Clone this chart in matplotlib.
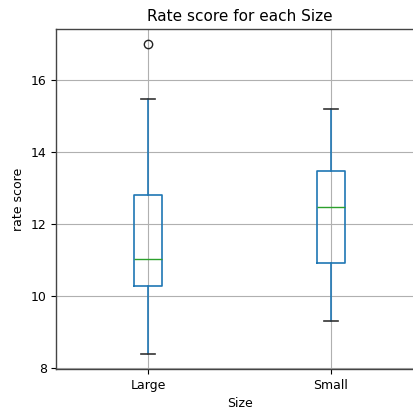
import matplotlib
matplotlib.use("Agg")
import matplotlib.pyplot as plt

# box statistics
sizes = ["Large", "Small"]
whisker_low = [8.39, 9.31]
q1 = [10.28, 10.92]
medians = [11.03, 12.47]
q3 = [12.81, 13.47]
whisker_high = [15.47, 15.19]
outliers = [[17.0], []]

stats = []
for i, name in enumerate(sizes):
    stats.append(
        {
            "label": name,
            "whislo": whisker_low[i],
            "q1": q1[i],
            "med": medians[i],
            "q3": q3[i],
            "whishi": whisker_high[i],
            "fliers": outliers[i],
        }
    )

plt.rcParams["font.size"] = 9
plt.rcParams["axes.titlesize"] = 11
plt.rcParams["axes.linewidth"] = 1.0
plt.rcParams["axes.edgecolor"] = "#444444"

fig = plt.figure(figsize=(4.14, 4.15), dpi=100)
ax = fig.add_axes([56.5 / 414, 46 / 415, 366 / 414, 340 / 415])
ax.bxp(
    stats,
    boxprops=dict(color="C0", linewidth=1.2),
    whiskerprops=dict(color="C0", linewidth=1.2),
    medianprops=dict(color="C2", linewidth=1.0),
    capprops=dict(color="#333333", linewidth=1.2),
    flierprops=dict(marker="o", markeredgecolor="#222222", markerfacecolor="none"),
)
ax.grid(True)
ax.set_ylim(7.97, 17.42)
ax.set_yticks([8, 10, 12, 14, 16])
ax.set_title("Rate score for each Size")
ax.set_xlabel("Size")
ax.set_ylabel("rate score")
fig.savefig("out.png", dpi=100)
